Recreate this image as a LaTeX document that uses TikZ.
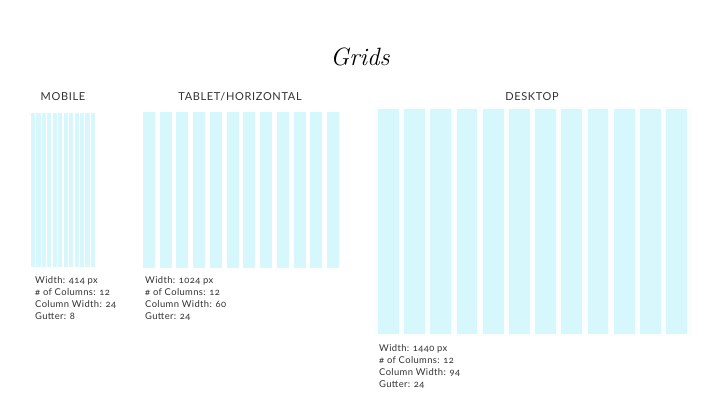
\documentclass[tikz,border=0pt]{standalone}
\usepackage{fontspec}
\setmainfont{Lato}[Numbers=OldStyle]
\newfontfamily\titlefont{Latin Modern Roman}
\definecolor{colfill}{HTML}{D6F7FB}
\definecolor{txt}{HTML}{333333}
\definecolor{framefill}{HTML}{FBFEFE}
\tikzset{
  gridcol/.style={fill=colfill, draw=none},
  headlabel/.style={font=\fontsize{11}{13}\selectfont\addfontfeature{LetterSpace=6}, text=txt, inner sep=0pt, anchor=center},
  speclabel/.style={font=\fontsize{9.4}{12}\selectfont\addfontfeature{LetterSpace=4}, text=txt, inner sep=0pt, anchor=north west, align=left},
}
% #1 left x, #2 top y, #3 total width, #4 height, #5 col, #6 gutter (px units)
\newcommand{\gridcols}[6]{%
  \pgfmathsetmacro{\gscale}{#3/(12*#5+11*#6)}%
  \foreach \i in {0,...,11}{%
    \pgfmathsetmacro{\xa}{#1+\i*(#5+#6)*\gscale}%
    \pgfmathsetmacro{\xb}{\xa+#5*\gscale}%
    \fill[gridcol] (\xa,#2) rectangle (\xb,#2+#4);
  }%
}
\begin{document}
\begin{tikzpicture}[x=1pt,y=-1pt]
\useasboundingbox (0,0) rectangle (720,405);
\fill[white] (0,0) rectangle (720,405);

\node[inner sep=0pt, font=\titlefont\itshape\fontsize{25}{28}\selectfont] (title) at (360,57) {Grids};

\node[headlabel] (mobile) at (63,97) {MOBILE};
\node[headlabel] (tablet) at (240,97) {TABLET/HORIZONTAL};
\node[headlabel] (desktop) at (532,97) {DESKTOP};

% desktop faint frame
\fill[framefill] (374,107) rectangle (692,336);

\gridcols{31}{113}{64}{154}{24}{8}
\gridcols{143}{112}{196}{156}{60}{24}
\gridcols{378}{109}{309}{225}{94}{24}

\node[speclabel] (mspec) at (35,276) {Width: 414 px\\\# of Columns: 12\\Column Width: 24\\Gutter: 8};
\node[speclabel] (tspec) at (145,276) {Width: 1024 px\\\# of Columns: 12\\Column Width: 60\\Gutter: 24};
\node[speclabel] (dspec) at (379,344) {Width: 1440 px\\\# of Columns: 12\\Column Width: 94\\Gutter: 24};
\end{tikzpicture}
\end{document}
